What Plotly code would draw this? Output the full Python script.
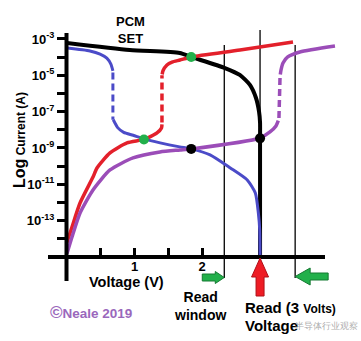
import plotly.graph_objects as go

# ---------------- data (voltage in V, log10 of current in A) ----------------
set_v = [0.0, 0.93, 1.67, 1.84, 2.34, 2.56, 2.71, 2.80, 2.845, 2.86, 2.86, 2.86]
set_log = [-3.22, -3.61, -3.77, -3.99, -4.60, -4.98, -5.53, -6.25, -7.0, -7.6, -8.5, -15.0]

blue_a_v = [0.0, 0.34, 0.49, 0.59, 0.65, 0.68]
blue_a_log = [-3.50, -3.66, -3.83, -4.05, -4.38, -4.75]
blue_dash_v = [0.68, 0.68]
blue_dash_log = [-4.85, -7.45]
blue_b_v = [0.685, 0.71, 0.75, 0.84, 0.98, 1.14, 1.38, 1.67, 1.84, 2.12, 2.42, 2.67, 2.79, 2.835, 2.855, 2.86]
blue_b_log = [-7.45, -7.62, -7.88, -8.14, -8.30, -8.50, -8.72, -8.94, -9.05, -9.38, -10.10, -10.76, -11.48, -12.58, -13.5, -15.0]

red_a_v = [0.0, 0.074, 0.193, 0.385, 0.444, 0.637, 0.889, 1.14, 1.333, 1.40, 1.407]
red_a_log = [-14.2, -13.35, -12.03, -10.60, -10.10, -9.27, -8.72, -8.53, -8.17, -7.9, -7.7]
red_dash_v = [1.407, 1.407]
red_dash_log = [-7.6, -5.0]
red_b_v = [1.41, 1.422, 1.481, 1.556, 1.674, 1.84, 2.563, 3.348]
red_b_log = [-4.95, -4.75, -4.43, -4.27, -4.16, -3.99, -3.61, -3.17]

purple_a_v = [0.0, 0.074, 0.193, 0.385, 0.637, 0.978, 1.378, 1.674, 1.84, 2.86, 3.007, 3.096, 3.13]
purple_a_log = [-14.8, -13.90, -12.58, -11.31, -10.21, -9.55, -9.22, -9.11, -9.05, -8.45, -8.12, -7.79, -7.5]
purple_dash_v = [3.14, 3.156]
purple_dash_log = [-7.35, -5.09]
purple_b_v = [3.16, 3.17, 3.20, 3.27, 3.45, 3.97]
purple_b_log = [-4.95, -4.71, -4.32, -3.99, -3.72, -3.39]

green_v = [1.14, 1.84]
green_log = [-8.53, -3.99]
black_pt_v = [1.84, 2.86]
black_pt_log = [-9.05, -8.47]

read_voltage = 2.86
read_window = [2.33, 3.38]

y_label_exp = [-3, -5, -7, -9, -11, -13]
y_minor_exp = [-4, -6, -8, -10, -12, -14]
x_label_vals = [1.0, 2.0]
x_minor_vals = [0.5, 1.5]

# ---------------- layout geometry ----------------
W, H = 361, 341
ML, MR, MT, MB = 67, 21, 30, 84
PW, PH = W - ML - MR, H - MT - MB
FONT = "Liberation Sans, Arial, sans-serif"

def px(x):
    return (x - ML) / PW

def py(y):
    return (H - MB - y) / PH

RED = "#e3202b"
BLUE = "#4b4bc8"
PURPLE = "#9b4db8"
GREEN = "#22b04b"

def pw(vals):
    return [10 ** v for v in vals]

fig = go.Figure()

def line(v, l, color, width, dash="solid"):
    fig.add_trace(go.Scatter(x=v, y=pw(l), mode="lines",
                             line=dict(color=color, width=width, dash=dash, shape="spline", smoothing=0.6),
                             hoverinfo="skip", showlegend=False))

line(set_v, set_log, "black", 4)
line(blue_a_v, blue_a_log, BLUE, 3)
line(blue_dash_v, blue_dash_log, BLUE, 3, "7px,4px")
line(blue_b_v, blue_b_log, BLUE, 3)
line(red_a_v, red_a_log, RED, 3.5)
line(red_dash_v, red_dash_log, RED, 3.5, "7px,4px")
line(red_b_v, red_b_log, RED, 3.5)
line(purple_a_v, purple_a_log, PURPLE, 3.5)
line(purple_dash_v, purple_dash_log, PURPLE, 3.5, "7px,4px")
line(purple_b_v, purple_b_log, PURPLE, 3.5)

fig.add_trace(go.Scatter(x=green_v, y=pw(green_log), mode="markers",
                         marker=dict(color=GREEN, size=10, line=dict(width=0)),
                         hoverinfo="skip", showlegend=False))
fig.add_trace(go.Scatter(x=black_pt_v, y=pw(black_pt_log), mode="markers",
                         marker=dict(color="black", size=10, line=dict(width=0)),
                         hoverinfo="skip", showlegend=False))

shapes = []
# axis lines (extend beyond plot area like the drawing)
shapes.append(dict(type="line", xref="paper", yref="paper", x0=px(66.5), x1=px(66.5), y0=py(281), y1=py(33),
                   line=dict(color="black", width=4), layer="above"))
shapes.append(dict(type="line", xref="paper", yref="paper", x0=px(48), x1=px(325), y0=py(257), y1=py(257),
                   line=dict(color="black", width=4), layer="above"))
# read voltage line and read window lines
shapes.append(dict(type="line", xref="x", yref="paper", x0=read_voltage, x1=read_voltage, y0=0, y1=1,
                   line=dict(color="black", width=1.3), layer="below"))
for wv in read_window:
    shapes.append(dict(type="line", xref="x", yref="paper", x0=wv, x1=wv, y0=py(278), y1=py(45),
                       line=dict(color="black", width=1.3), layer="below"))

# green arrows at read window edges
dv = 1 / 67.5  # volts per pixel
l = read_window[0]
path = (f"M {l-22*dv},{py(274)} L {l-9*dv},{py(274)} L {l-9*dv},{py(271.5)} L {l},{py(277.5)} "
        f"L {l-9*dv},{py(283.5)} L {l-9*dv},{py(281)} L {l-22*dv},{py(281)} Z")
shapes.append(dict(type="path", xref="x", yref="paper", path=path, fillcolor=GREEN,
                   line=dict(color="#157a32", width=1), layer="above"))
r = read_window[1]
path = (f"M {r+33*dv},{py(273)} L {r+15*dv},{py(273)} L {r+15*dv},{py(268)} L {r},{py(276.5)} "
        f"L {r+15*dv},{py(285)} L {r+15*dv},{py(280)} L {r+33*dv},{py(280)} Z")
shapes.append(dict(type="path", xref="x", yref="paper", path=path, fillcolor=GREEN,
                   line=dict(color="#157a32", width=1), layer="above"))
# red arrow at read voltage
c = read_voltage
path = (f"M {c-4*dv},{py(296)} L {c-4*dv},{py(277)} L {c-8.5*dv},{py(277)} L {c},{py(258)} "
        f"L {c+8.5*dv},{py(277)} L {c+4*dv},{py(277)} L {c+4*dv},{py(296)} Z")
shapes.append(dict(type="path", xref="x", yref="paper", path=path, fillcolor="#ee1c24",
                   line=dict(color="#b01018", width=1), layer="above"))

ann = []
def text(x, y, t, size=13, color="black", xanchor="center", angle=0):
    ann.append(dict(xref="paper", yref="paper", x=px(x), y=py(y), text=t, showarrow=False,
                    xanchor=xanchor, yanchor="middle", textangle=angle,
                    font=dict(family=FONT, size=size, color=color)))

text(130, 30, "<b>PCM<br>SET</b>", 13)
text(19, 140, "<b><span style='font-size:16px'>Log</span> Current (A)</b>", 12, angle=-90)
text(126, 282, "<b>Voltage (V)</b>", 14.5)
text(91, 312, "<b><span style='font-size:17px'>\u00a9</span>Neale 2019</b>", 13.5, color="#9a68bc")
text(200, 306, "<b>Read<br>window</b>", 14)
text(243, 307, "<b>Read (3 <span style='font-size:12px'>Volts)</span></b>", 15, xanchor="left")
text(243, 325, "<b>Voltage</b>", 15, xanchor="left")
text(360, 326, "\u534a\u5bfc\u4f53\u884c\u4e1a\u89c2\u5bdf", 8.5, color="rgba(150,150,150,0.8)", xanchor="right")

fig.update_layout(
    width=W, height=H, margin=dict(l=ML, r=MR, t=MT, b=MB),
    paper_bgcolor="white", plot_bgcolor="white",
    shapes=shapes, annotations=ann, showlegend=False,
    xaxis=dict(range=[0, PW / 67.5], showgrid=False, zeroline=False, showline=False,
               tickmode="array", tickvals=x_label_vals,
               ticktext=[f"<b>{v:g}</b>" for v in x_label_vals],
               ticks="inside", ticklen=9, tickwidth=3, tickcolor="black",
               minor=dict(tickmode="array", tickvals=x_minor_vals, ticks="inside",
                          ticklen=9, tickwidth=3, tickcolor="black", showgrid=False),
               tickfont=dict(family=FONT, size=13, color="black")),
    yaxis=dict(type="log", range=[-15, -15 + PH / 18.17], showgrid=False, zeroline=False, showline=False,
               tickmode="array", tickvals=[10 ** e for e in y_label_exp],
               ticktext=[f"<b>10<sup>{e}</sup></b>" for e in y_label_exp],
               ticks="outside", ticklen=9, tickwidth=3, tickcolor="black",
               minor=dict(tickmode="array", tickvals=[10 ** e for e in y_minor_exp], ticks="outside",
                          ticklen=9, tickwidth=3, tickcolor="black", showgrid=False),
               tickfont=dict(family=FONT, size=13, color="black")),
)

fig.write_html("out.html")
